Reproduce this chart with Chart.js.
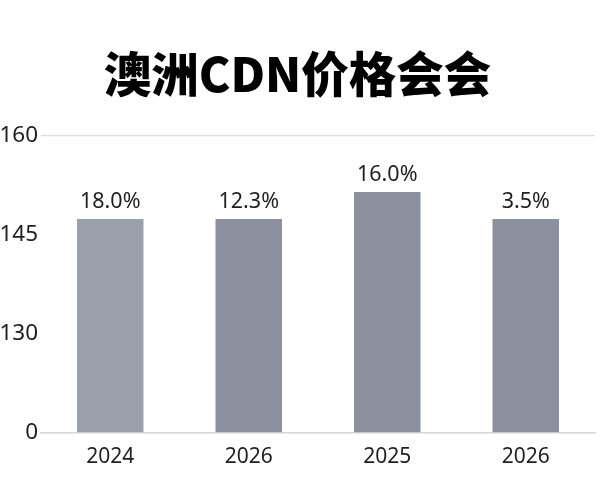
<!DOCTYPE html>
<html>
<head>
<meta charset="utf-8">
<script src="https://cdn.jsdelivr.net/npm/chart.js@4/dist/chart.umd.min.js"></script>
<style>
  html, body { margin: 0; padding: 0; background: #ffffff; }
  #wrap { width: 600px; height: 500px; position: relative; }
</style>
</head>
<body>
<div id="wrap"><canvas id="c" width="600" height="500"></canvas></div>
<script>
const titleText = '澳洲CDN价格会会';
const categories = ['2024', '2026', '2025', '2026'];
const values = [147.4, 147.4, 151.5, 147.4];
const valueLabels = ['18.0%', '12.3%', '16.0%', '3.5%'];
const yTickValues = [0, 130, 145, 160];
const yTickLabels = ['0', '130', '145', '160'];
const barColors = ['#9ca0ad', '#8d919f', '#8d919f', '#8d919f'];

// map real value onto evenly spaced tick positions (axis is drawn with equal spacing)
function toAxis(v) {
  for (let i = 1; i < yTickValues.length; i++) {
    if (v <= yTickValues[i]) {
      const a = yTickValues[i - 1], b = yTickValues[i];
      return (i - 1) + (v - a) / (b - a);
    }
  }
  return yTickValues.length - 1;
}

const FONT = '"Noto Sans", "Open Sans", sans-serif';

const valueLabelPlugin = {
  id: 'valueLabels',
  afterDatasetsDraw(chart) {
    const ctx = chart.ctx;
    const meta = chart.getDatasetMeta(0);
    ctx.save();
    ctx.font = '21.5px ' + FONT;
    ctx.fillStyle = '#1f1f1f';
    ctx.textAlign = 'center';
    ctx.textBaseline = 'bottom';
    meta.data.forEach((bar, i) => {
      ctx.fillText(valueLabels[i], bar.x, bar.y - 6);
    });
    ctx.restore();
  }
};

new Chart(document.getElementById('c'), {
  type: 'bar',
  data: {
    labels: categories,
    datasets: [{
      data: values.map(toAxis),
      backgroundColor: barColors,
      borderWidth: 0,
      barPercentage: 0.48,
      categoryPercentage: 1.0
    }]
  },
  options: {
    responsive: false,
    animation: false,
    devicePixelRatio: 1,
    layout: { padding: { left: 0, right: 5, top: 0, bottom: 18 } },
    plugins: {
      legend: { display: false },
      tooltip: { enabled: false },
      title: {
        display: true,
        text: titleText,
        color: '#000000',
        font: { family: '"Noto Sans CJK SC", "Noto Sans", sans-serif', size: 47.5, weight: '900' },
        padding: { top: 45, bottom: 34 }
      }
    },
    scales: {
      x: {
        grid: { display: false, drawTicks: false },
        border: { display: true, color: '#d6d6d6', width: 1.5 },
        ticks: { color: '#1f1f1f', font: { family: FONT, size: 21 }, padding: 12 }
      },
      y: {
        min: 0,
        max: yTickValues.length - 1,
        afterFit(scale) { scale.width = 41; },
        afterBuildTicks(scale) {
          scale.ticks = yTickValues.map((_, i) => ({ value: i }));
        },
        border: { display: false },
        grid: {
          drawTicks: false,
          color: (c) => (c.index === yTickValues.length - 1 ? '#dcdcdc' : 'rgba(0,0,0,0)'),
          lineWidth: 1.2
        },
        ticks: {
          color: '#1f1f1f',
          font: { family: FONT, size: 22.5 },
          padding: 3,
          callback: (v, i) => yTickLabels[i]
        }
      }
    }
  },
  plugins: [valueLabelPlugin]
});
</script>
</body>
</html>
